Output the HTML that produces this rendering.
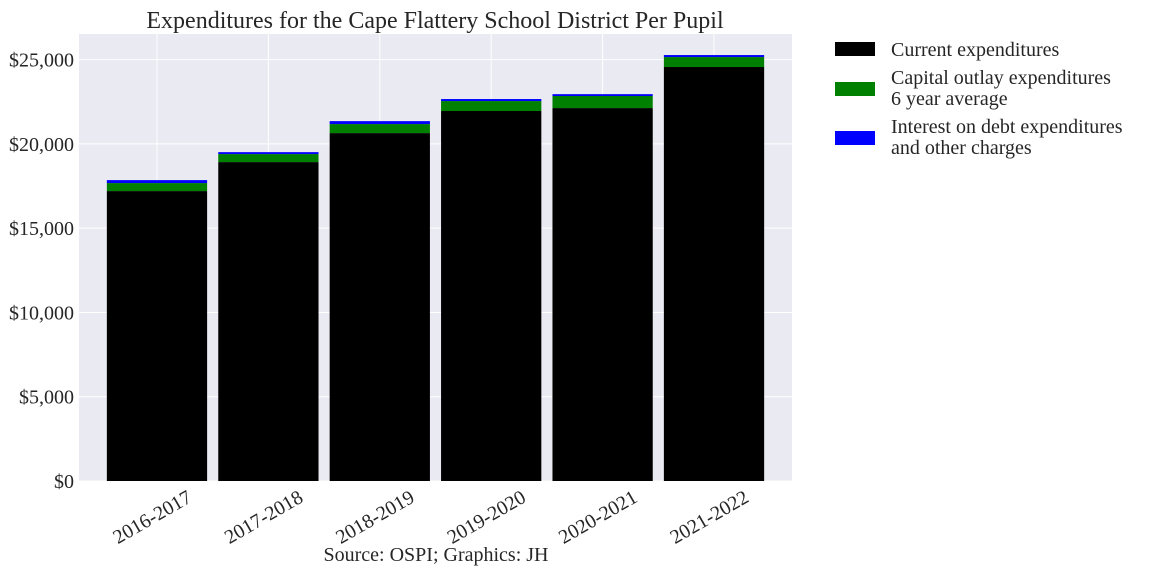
<!DOCTYPE html>
<html><head><meta charset="utf-8"><style>
body{margin:0;background:#fff;width:1152px;height:576px;overflow:hidden}
svg text{font-family:"Liberation Serif",serif;fill:#262626}
</style></head><body>
<svg id="chart" width="1152" height="576" xmlns="http://www.w3.org/2000/svg">
<text x="435" y="28" font-size="24" text-anchor="middle">Expenditures for the Cape Flattery School District Per Pupil</text>
<rect x="79" y="34" width="713" height="447" fill="#eaeaf2"/>
<g id="grid"></g><g id="bars"></g><g id="axes"></g>
<text x="436" y="561" font-size="20" text-anchor="middle">Source: OSPI; Graphics: JH</text>
<g>
<rect x="835" y="42" width="40" height="14" fill="#000"/>
<text x="891" y="56" font-size="20">Current expenditures</text>
<rect x="835" y="82" width="40" height="14" fill="#008000"/>
<text x="891" y="84" font-size="20"><tspan x="891">Capital outlay expenditures</tspan><tspan x="891" dy="21">6 year average</tspan></text>
<rect x="835" y="131" width="40" height="14" fill="#0000ff"/>
<text x="891" y="133" font-size="20"><tspan x="891">Interest on debt expenditures</tspan><tspan x="891" dy="21">and other charges</tspan></text>
</g>
</svg>
<script>
const categories=["2016-2017","2017-2018","2018-2019","2019-2020","2020-2021","2021-2022"];
const currentExp=[17200,18920,20640,21950,22125,24560];
const capitalExp=[475,475,535,590,715,590];
const interestExp=[175,115,175,120,110,120];
const yTicks=[0,5000,10000,15000,20000,25000];
const NS="http://www.w3.org/2000/svg";
const L=79,R=792,T=34,B=481;
const y=v=>B-v*(B-59.6)/25000;
const step=(R-L)/6.4;
const x=i=>L+(i+0.7)*step;
const bw=step*0.9;
function mk(tag,attrs,parent){const e=document.createElementNS(NS,tag);for(const k in attrs)e.setAttribute(k,attrs[k]);parent.appendChild(e);return e;}
const grid=document.getElementById('grid'),bars=document.getElementById('bars'),axes=document.getElementById('axes');
yTicks.forEach(t=>{
 const g=mk('line',{x1:L,x2:R,y1:y(t),y2:y(t),stroke:'#fff','stroke-width':1},grid);
 
 
 const lb=mk('text',{x:L-5,y:y(t)+7,'font-size':20,'text-anchor':'end'},axes);
 lb.textContent='$'+t.toLocaleString('en-US');
 
 
});
categories.forEach((c,i)=>{
 const g=mk('line',{x1:x(i),x2:x(i),y1:T,y2:B,stroke:'#fff','stroke-width':1},grid);
 
 
 let base=0;
 [[currentExp,'#000','current'],[capitalExp,'#008000','capital'],[interestExp,'#0000ff','interest']].forEach(([arr,col,nm])=>{
  const v=arr[i];
  const r=mk('rect',{x:x(i)-bw/2,width:bw,y:y(base+v),height:y(base)-y(base+v),fill:col},bars);
  
  
  base+=v;
 });
 const tx=x(i)+36,ty=B+20;
 const lb=mk('text',{x:tx,y:ty,'font-size':20,'text-anchor':'end',transform:`rotate(-30 ${tx} ${ty})`},axes);
 lb.textContent=c;
 
 
});
</script>
</body></html>
